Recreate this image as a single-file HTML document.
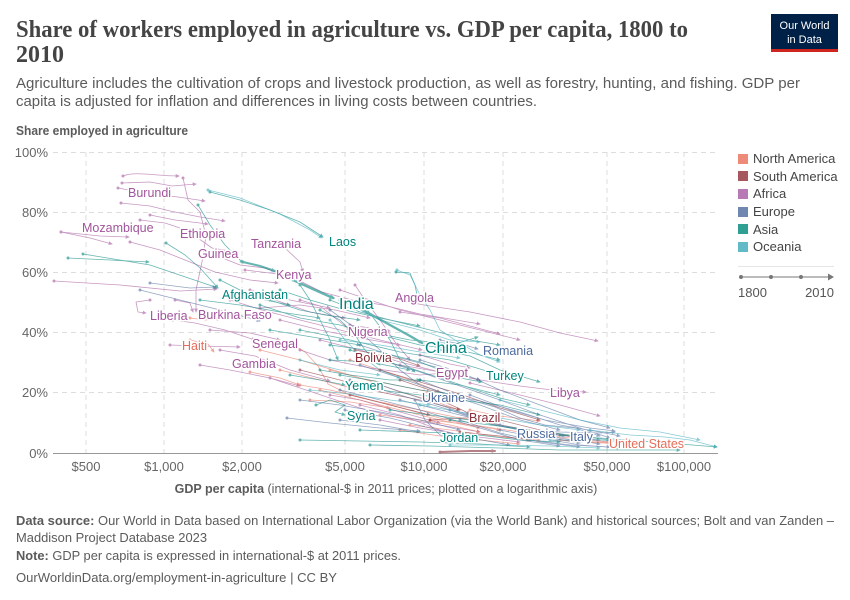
<!DOCTYPE html>
<html><head><meta charset="utf-8"><style>
html,body{margin:0;padding:0;background:#fff;width:850px;height:600px;overflow:hidden}
svg{display:block}
.lbl{font-size:12.5px;paint-order:stroke;stroke:#fff;stroke-width:3px;stroke-linejoin:round}
</style></head><body>
<svg width="850" height="600" viewBox="0 0 850 600" font-family="'Liberation Sans', sans-serif">
<defs>
<marker id="aAf" viewBox="0 0 6 6" refX="5" refY="3" markerWidth="4" markerHeight="4" markerUnits="userSpaceOnUse" orient="auto"><path d="M0,0L6,3L0,6z" fill="#A2559C"/></marker>
<marker id="dAf" viewBox="0 0 4 4" refX="2" refY="2" markerWidth="3" markerHeight="3" markerUnits="userSpaceOnUse"><circle cx="2" cy="2" r="2" fill="#A2559C"/></marker>
<marker id="aNA" viewBox="0 0 6 6" refX="5" refY="3" markerWidth="4" markerHeight="4" markerUnits="userSpaceOnUse" orient="auto"><path d="M0,0L6,3L0,6z" fill="#E56E5A"/></marker>
<marker id="dNA" viewBox="0 0 4 4" refX="2" refY="2" markerWidth="3" markerHeight="3" markerUnits="userSpaceOnUse"><circle cx="2" cy="2" r="2" fill="#E56E5A"/></marker>
<marker id="aSA" viewBox="0 0 6 6" refX="5" refY="3" markerWidth="4" markerHeight="4" markerUnits="userSpaceOnUse" orient="auto"><path d="M0,0L6,3L0,6z" fill="#883039"/></marker>
<marker id="dSA" viewBox="0 0 4 4" refX="2" refY="2" markerWidth="3" markerHeight="3" markerUnits="userSpaceOnUse"><circle cx="2" cy="2" r="2" fill="#883039"/></marker>
<marker id="aEU" viewBox="0 0 6 6" refX="5" refY="3" markerWidth="4" markerHeight="4" markerUnits="userSpaceOnUse" orient="auto"><path d="M0,0L6,3L0,6z" fill="#4C6A9C"/></marker>
<marker id="dEU" viewBox="0 0 4 4" refX="2" refY="2" markerWidth="3" markerHeight="3" markerUnits="userSpaceOnUse"><circle cx="2" cy="2" r="2" fill="#4C6A9C"/></marker>
<marker id="aAS" viewBox="0 0 6 6" refX="5" refY="3" markerWidth="4" markerHeight="4" markerUnits="userSpaceOnUse" orient="auto"><path d="M0,0L6,3L0,6z" fill="#00847E"/></marker>
<marker id="dAS" viewBox="0 0 4 4" refX="2" refY="2" markerWidth="3" markerHeight="3" markerUnits="userSpaceOnUse"><circle cx="2" cy="2" r="2" fill="#00847E"/></marker>
<marker id="aOC" viewBox="0 0 6 6" refX="5" refY="3" markerWidth="4" markerHeight="4" markerUnits="userSpaceOnUse" orient="auto"><path d="M0,0L6,3L0,6z" fill="#38AABA"/></marker>
<marker id="dOC" viewBox="0 0 4 4" refX="2" refY="2" markerWidth="3" markerHeight="3" markerUnits="userSpaceOnUse"><circle cx="2" cy="2" r="2" fill="#38AABA"/></marker>
</defs>

<!-- Title -->
<text x="16" y="37" font-family="'Liberation Serif', serif" font-size="24" font-weight="bold" fill="#444" textLength="672" lengthAdjust="spacingAndGlyphs">Share of workers employed in agriculture vs. GDP per capita, 1800 to</text>
<text x="16" y="62" font-family="'Liberation Serif', serif" font-size="24" font-weight="bold" fill="#444">2010</text>

<!-- Logo -->
<rect x="771" y="14" width="67" height="38" fill="#002147"/>
<rect x="771" y="49" width="67" height="3" fill="#ce261e"/>
<text x="804.5" y="29" font-size="11" fill="#fff" text-anchor="middle">Our World</text>
<text x="804.5" y="43" font-size="11" fill="#fff" text-anchor="middle">in Data</text>

<!-- Subtitle -->
<text x="16" y="88" font-size="15" fill="#5b5b5b" textLength="784" lengthAdjust="spacingAndGlyphs">Agriculture includes the cultivation of crops and livestock production, as well as forestry, hunting, and fishing. GDP per</text>
<text x="16" y="106" font-size="15" fill="#5b5b5b" textLength="521" lengthAdjust="spacingAndGlyphs">capita is adjusted for inflation and differences in living costs between countries.</text>

<text x="16" y="135" font-size="12.5" font-weight="bold" fill="#5b5b5b" textLength="172" lengthAdjust="spacingAndGlyphs">Share employed in agriculture</text>

<!-- Grid -->
<g stroke="#ddd" stroke-width="1" stroke-dasharray="5,4" fill="none">
<path d="M53,152.5H718M53,212.5H718M53,272.5H718M53,332.5H718M53,392.5H718"/>
<path d="M86,152V453M164,152V453M242,152V453M345,152V453M424,152V453M503,152V453M607,152V453M684,152V453"/>
</g>
<path d="M53,453.5H718" stroke="#999" stroke-width="1"/>

<!-- Y ticks -->
<g font-size="13" fill="#666" text-anchor="end">
<text x="48" y="157">100%</text>
<text x="48" y="217">80%</text>
<text x="48" y="277">60%</text>
<text x="48" y="337">40%</text>
<text x="48" y="397">20%</text>
<text x="48" y="458">0%</text>
</g>
<!-- X ticks -->
<g font-size="13" fill="#666" text-anchor="middle">
<text x="86" y="471">$500</text>
<text x="164" y="471">$1,000</text>
<text x="242" y="471">$2,000</text>
<text x="345" y="471">$5,000</text>
<text x="424" y="471">$10,000</text>
<text x="503" y="471">$20,000</text>
<text x="607" y="471">$50,000</text>
<text x="684" y="471">$100,000</text>
</g>
<text x="386" y="493" font-size="12.5" fill="#5b5b5b" text-anchor="middle"><tspan font-weight="bold">GDP per capita</tspan> (international-$ in 2011 prices; plotted on a logarithmic axis)</text>

<!-- Series -->
<g fill="none" stroke-linejoin="round" stroke-linecap="round">
<!-- Africa -->
<g stroke="#A2559C" stroke-width="0.8" opacity="0.6" marker-start="url(#dAf)" marker-end="url(#aAf)">
<path d="M123,176C135,171 155,176 179,176"/>
<path d="M122,183L150,182L172,186L196,184"/>
<path d="M118,188L150,194L178,197L205,201"/>
<path d="M121,203L150,206L170,211L200,217L225,221"/>
<path d="M61,232L100,236L129,237"/>
<path d="M61,232L90,238L112,244"/>
<path d="M140,220L165,223L180,228L195,236L212,248L236,252"/>
<path d="M183,178L188,200L200,212L206,236L202,262L196,290L196,312"/>
<path d="M130,242L160,250L190,262L215,272L250,280L278,283"/>
<path d="M54,281L120,285L180,291L217,289"/>
<path d="M150,300L136,302L138,312L146,313"/>
<path d="M175,300L190,303L193,312"/>
<path d="M173,320L195,323L225,330L255,340"/>
<path d="M245,270L278,274L300,281L322,292L352,300L383,305L420,314L480,324"/>
<path d="M285,248L300,262L303,272"/>
<path d="M230,300L262,310L300,320L340,330L380,340L422,350"/>
<path d="M396,300L430,306L470,312L520,322L560,333L598,341"/>
<path d="M400,312L440,318L470,326L500,334"/>
<path d="M350,325L390,331"/>
<path d="M400,365L440,372L480,380L520,386L560,391L586,392"/>
<path d="M420,355L450,364L470,368"/>
<path d="M220,350L255,356L290,370L330,381"/>
<path d="M170,345L200,346L240,347"/>
<path d="M200,365L230,370L270,378L300,386"/>
<path d="M470,383L520,395L560,405L600,416"/>
<path d="M270,378L300,388L330,398L360,408L400,418L440,425L480,432"/>
<path d="M260,308L300,305L335,310L370,318"/>
<path d="M215,255L240,265L265,268L290,278"/>
<path d="M330,395L360,400L400,412L440,423"/>
<path d="M355,285L365,300L380,320L395,342L410,360"/>
<path d="M210,330L250,333L280,340"/>
<path d="M300,350L330,360L370,368L420,375L445,373"/>
<path d="M150,215L175,220L208,224"/>
<path d="M240,295L275,300L310,312L345,318"/>
<path d="M380,420L420,428L470,436L520,442"/>
<path d="M320,340L360,350L400,362L440,372L480,380"/>
<path d="M280,320L320,330L360,338L400,345"/>
<path d="M340,290L370,300L400,310L440,320L480,330L520,340"/>
<path d="M250,290L290,300L330,308"/>
<path d="M360,405L400,415L440,430L480,440"/>
<path d="M300,300L320,306L335,318L350,330"/>
</g>
<!-- North America -->
<g stroke="#E56E5A" stroke-width="0.8" opacity="0.6" marker-start="url(#dNA)" marker-end="url(#aNA)">
<path d="M190,318L205,320L220,319"/>
<path d="M190,340L208,344L214,352"/>
<path d="M292,344L305,352L318,366L328,384L350,395L380,402L420,410L460,418L500,425L540,432L580,438L612,443"/>
<path d="M260,350L300,360L340,372L370,381L400,392L430,400L460,410"/>
<path d="M300,385L330,390L360,397L390,405L420,413L460,423L500,430"/>
<path d="M310,400L350,402L390,408"/>
<path d="M430,420L480,426L520,432L560,437L600,441L612,442"/>
<path d="M470,410L500,416L540,421"/>
<path d="M250,372L280,378L300,385"/>
<path d="M330,370L360,378L395,385L430,392"/>
<path d="M380,415L420,420L450,425L480,432"/>
<path d="M410,425L450,430L500,437L540,440"/>
<path d="M560,440L590,442L612,443" stroke-width="1.4"/>
<path d="M320,390L360,400L400,410L440,420L480,428"/>
<path d="M350,360L380,370L410,380L440,392"/>
<path d="M280,370L320,380L360,390"/>
<path d="M400,430L440,436L480,440L520,444"/>
</g>
<!-- South America -->
<g stroke="#883039" stroke-width="0.8" opacity="0.6" marker-start="url(#dSA)" marker-end="url(#aSA)">
<path d="M355,350L380,355L400,359L420,366"/>
<path d="M440,400L458,408L470,414"/>
<path d="M430,420L460,418L490,418"/>
<path d="M440,452L470,451L495,451" stroke-width="2"/>
<path d="M300,370L340,380L380,392L420,400L460,410"/>
<path d="M500,420L540,430L580,438"/>
<path d="M400,380L430,390L465,398"/>
<path d="M460,432L500,436L530,440"/>
<path d="M380,370L420,382L460,394L500,408L540,420"/>
<path d="M350,395L390,405L430,415"/>
</g>
<!-- Europe -->
<g stroke="#4C6A9C" stroke-width="0.8" opacity="0.6" marker-start="url(#dEU)" marker-end="url(#aEU)">
<path d="M287,418L330,423L380,428L420,431"/>
<path d="M330,310L358,330L380,350L400,370L420,385L450,395L480,401L520,412L560,425L600,432L620,436"/>
<path d="M380,360L420,372L460,386L500,400L540,415L580,428L610,438"/>
<path d="M440,340L465,345L478,349"/>
<path d="M340,390L380,400L420,410L470,425L520,440L560,446"/>
<path d="M400,400L440,410L480,420L520,430L560,438L600,444"/>
<path d="M520,430L560,432L600,433L615,432"/>
<path d="M140,290L180,300L220,310L260,321"/>
<path d="M150,283L190,288L216,287"/>
<path d="M345,410L390,418L430,428L470,438L510,445"/>
<path d="M500,430L540,438L580,445L620,448"/>
<path d="M420,380L450,392L470,400L495,407L520,418L545,425L575,428L600,436"/>
<path d="M360,345L400,358L440,368L480,380"/>
<path d="M450,410L490,424L530,432L565,436"/>
<path d="M500,425L540,432L580,438L600,440"/>
<path d="M340,420L380,425L420,432"/>
<path d="M415,400L425,420L440,435L460,440"/>
<path d="M470,395L510,410L545,420L590,428L615,431"/>
<path d="M530,440L570,445L610,447"/>
<path d="M360,365L400,378L440,392L480,405L520,420L560,430"/>
<path d="M380,385L420,398L460,412L500,425L540,436L580,443"/>
<path d="M300,400L340,405L380,412L420,420L460,430"/>
<path d="M420,360L460,372L500,390L540,405L580,420L610,428"/>
<path d="M460,420L500,433L540,442L580,447"/>
<path d="M350,380L390,392L430,404L470,416"/>
</g>
<!-- Asia -->
<g stroke="#00847E" stroke-width="0.8" opacity="0.6" marker-start="url(#dAS)" marker-end="url(#aAS)">
<path d="M293,280L315,290L333,298" stroke-width="2.4"/>
<path d="M363,310L390,325L410,336L422,343" stroke-width="2.4"/>
<path d="M243,262L260,266L275,271" stroke-width="2"/>
<path d="M300,283L320,292L334,298" stroke-width="1.5"/>
<path d="M210,192L240,200L270,210L300,222L323,237"/>
<path d="M198,205L210,225L225,245L243,263"/>
<path d="M68,258L110,260L149,262"/>
<path d="M83,254L150,265L218,288"/>
<path d="M166,243L185,255L200,268L218,288"/>
<path d="M200,300L240,305L280,312L320,318"/>
<path d="M260,305L300,318L340,325L380,335L420,345L460,350L500,360"/>
<path d="M300,330L350,340L400,352L450,360L490,372L520,378"/>
<path d="M360,330L410,340L455,344L478,337"/>
<path d="M330,345L380,352L420,362L460,378L482,382"/>
<path d="M290,375L320,380L345,385"/>
<path d="M316,405L330,400L345,405L335,412L345,415"/>
<path d="M360,430L420,432L470,434L520,440L560,442"/>
<path d="M370,445L430,446L500,448L560,450L620,450L680,450"/>
<path d="M380,390L420,395L460,400L500,405L540,415"/>
<path d="M420,380L460,385L480,390L500,395"/>
<path d="M396,272L410,273L415,285L418,300"/>
<path d="M270,300L300,310L325,315L360,320"/>
<path d="M220,280L240,290L265,300L290,305"/>
<path d="M320,370L350,375L390,380L420,380"/>
<path d="M300,285L310,300L320,320L330,340L338,360"/>
<path d="M450,420L490,425L530,430L570,435L610,440"/>
<path d="M330,360L370,362L410,370"/>
<path d="M560,435L600,438L640,441L680,444L717,447"/>
<path d="M330,300L360,312L390,320L430,330L470,340L500,345"/>
<path d="M280,290L310,300L345,310L380,318L420,326"/>
<path d="M350,350L380,360L410,368L440,378L470,388L500,398L530,405"/>
<path d="M390,410L430,415L470,420L510,428L550,432"/>
<path d="M300,440L360,441L420,442L480,444L530,447"/>
<path d="M340,375L380,382L420,390L460,395"/>
<path d="M270,330L300,335L330,340L360,345"/>
<path d="M440,350L470,356L500,370L540,382"/>
<path d="M360,300L375,320L390,340L400,360L415,372"/>
<path d="M320,310L340,320L355,335L365,350L380,365"/>
</g>
<!-- Oceania -->
<g stroke="#38AABA" stroke-width="0.8" opacity="0.6" marker-start="url(#dOC)" marker-end="url(#aOC)">
<path d="M208,190L240,198L280,214L310,230L322,238"/>
<path d="M397,270L410,275L420,295L430,310L440,330L455,340L480,355L500,362"/>
<path d="M500,400L540,410L580,420L620,428L660,432L700,440"/>
<path d="M590,430L630,435L665,437L690,440L717,447"/>
<path d="M300,360L340,370L380,375"/>
<path d="M550,440L600,440L640,443"/>
<path d="M340,300L360,310L380,320L420,330L450,340L480,342"/>
<path d="M330,320L345,340L360,355L380,370L400,378"/>
<path d="M450,445L500,445L550,446L600,448"/>
<path d="M310,390L350,394L390,400L430,405"/>
<path d="M340,340L380,345L420,352L460,358"/>
<path d="M420,405L460,412L500,418L540,425L580,430"/>
</g>
</g>

<!-- Labels -->
<g>
<text class="lbl" x="128" y="197" fill="#A2559C">Burundi</text>
<text class="lbl" x="82" y="232" fill="#A2559C">Mozambique</text>
<text class="lbl" x="180" y="238" fill="#A2559C">Ethiopia</text>
<text class="lbl" x="251" y="248" fill="#A2559C">Tanzania</text>
<text class="lbl" x="329" y="246" fill="#00847E">Laos</text>
<text class="lbl" x="198" y="258" fill="#A2559C">Guinea</text>
<text class="lbl" x="276" y="279" fill="#A2559C">Kenya</text>
<text class="lbl" x="222" y="299" fill="#00847E">Afghanistan</text>
<text class="lbl" x="339" y="309" fill="#00847E" style="font-size:16px">India</text>
<text class="lbl" x="395" y="302" fill="#A2559C">Angola</text>
<text class="lbl" x="150" y="320" fill="#A2559C">Liberia</text>
<text class="lbl" x="198" y="319" fill="#A2559C">Burkina Faso</text>
<text class="lbl" x="348" y="336" fill="#A2559C">Nigeria</text>
<text class="lbl" x="425" y="353" fill="#00847E" style="font-size:16px">China</text>
<text class="lbl" x="483" y="355" fill="#4C6A9C">Romania</text>
<text class="lbl" x="182" y="350" fill="#E56E5A">Haiti</text>
<text class="lbl" x="252" y="348" fill="#A2559C">Senegal</text>
<text class="lbl" x="355" y="362" fill="#883039">Bolivia</text>
<text class="lbl" x="232" y="368" fill="#A2559C">Gambia</text>
<text class="lbl" x="436" y="377" fill="#A2559C">Egypt</text>
<text class="lbl" x="486" y="380" fill="#00847E">Turkey</text>
<text class="lbl" x="345" y="390" fill="#00847E">Yemen</text>
<text class="lbl" x="550" y="397" fill="#A2559C">Libya</text>
<text class="lbl" x="422" y="402" fill="#4C6A9C">Ukraine</text>
<text class="lbl" x="347" y="420" fill="#00847E">Syria</text>
<text class="lbl" x="469" y="422" fill="#883039">Brazil</text>
<text class="lbl" x="440" y="442" fill="#00847E">Jordan</text>
<text class="lbl" x="517" y="438" fill="#4C6A9C">Russia</text>
<text class="lbl" x="570" y="441" fill="#4C6A9C">Italy</text>
<text class="lbl" x="609" y="448" fill="#E56E5A">United States</text>
</g>

<!-- Legend -->
<g font-size="13" fill="#444">
<rect x="738" y="154" width="10" height="10" fill="#ee8a78"/><text x="753" y="163">North America</text>
<rect x="738" y="171" width="10" height="10" fill="#a5585e"/><text x="753" y="181">South America</text>
<rect x="738" y="189" width="10" height="10" fill="#b87ab5"/><text x="753" y="198">Africa</text>
<rect x="738" y="207" width="10" height="10" fill="#7087b0"/><text x="753" y="216">Europe</text>
<rect x="738" y="224" width="10" height="10" fill="#2f9e93"/><text x="753" y="234">Asia</text>
<rect x="738" y="242" width="10" height="10" fill="#62bac6"/><text x="753" y="251">Oceania</text>
</g>
<path d="M738,266.5H834" stroke="#e6e6e6" stroke-width="1"/>
<path d="M741,277H829" stroke="#777" stroke-width="1"/>
<path d="M828,273.5L834,277L828,280.5z" fill="#777"/>
<circle cx="741" cy="277" r="2" fill="#777"/>
<circle cx="771" cy="277" r="2" fill="#777"/>
<circle cx="801" cy="277" r="2" fill="#777"/>
<text x="738" y="297" font-size="13" fill="#555">1800</text>
<text x="834" y="297" font-size="13" fill="#555" text-anchor="end">2010</text>

<!-- Footer -->
<text x="16" y="525" font-size="13" fill="#5b5b5b" textLength="818" lengthAdjust="spacingAndGlyphs"><tspan font-weight="bold">Data source:</tspan> Our World in Data based on International Labor Organization (via the World Bank) and historical sources; Bolt and van Zanden –</text>
<text x="16" y="542" font-size="13" fill="#5b5b5b" textLength="191" lengthAdjust="spacingAndGlyphs">Maddison Project Database 2023</text>
<text x="16" y="560" font-size="13" fill="#5b5b5b" textLength="385" lengthAdjust="spacingAndGlyphs"><tspan font-weight="bold">Note:</tspan> GDP per capita is expressed in international-$ at 2011 prices.</text>
<text x="16" y="582" font-size="13" fill="#5b5b5b" textLength="321" lengthAdjust="spacingAndGlyphs">OurWorldinData.org/employment-in-agriculture | CC BY</text>
</svg>
</body></html>
